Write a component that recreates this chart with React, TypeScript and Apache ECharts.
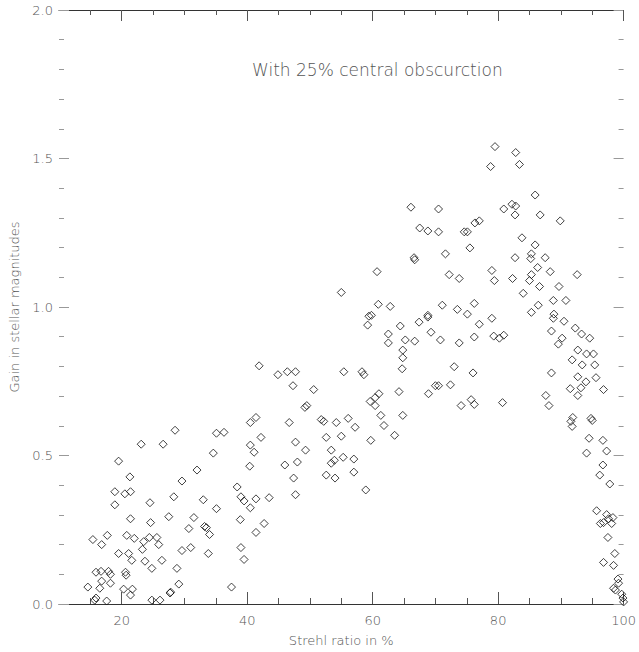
import React, { useEffect, useRef } from "react";
import * as echarts from "echarts";

// Strehl ratio (%) of each simulated case
const STREHL = [
  66.1, 67.5, 68.8, 66.6, 66.7, 60.7, 55.0, 60.9, 62.8, 59.4, 59.8, 59.2, 64.4, 67.4, 68.8, 68.8,
  69.3, 62.5, 62.5, 65.2, 66.7, 64.8, 64.8, 64.7, 41.9, 46.4, 47.7, 44.9, 55.4, 58.3, 58.6,
  79.5, 82.8, 78.8, 83.4, 85.9, 70.5, 80.9, 82.2, 82.8, 82.7, 86.7, 89.9, 70.5, 74.6, 75.1,
  76.3, 77.0, 83.8, 85.9, 71.6, 75.5, 82.7, 85.3, 85.2, 87.5, 86.3, 72.2, 73.8, 79.0, 79.4,
  82.3, 85.3, 85.0, 88.3, 92.6, 86.6, 89.7, 84.0, 71.1, 73.5, 75.1, 76.2, 86.4, 85.3, 88.8,
  90.8, 77.0, 79.0, 88.9, 88.8, 90.5, 88.5, 92.3, 93.3, 94.6, 70.8, 73.8, 76.2, 79.3, 80.2,
  80.9, 90.2, 89.6, 92.7, 94.1, 95.2, 91.8, 93.4, 95.4, 73.0, 76.0, 88.5, 92.7, 94.0, 93.2,
  91.5, 92.7, 95.6, 96.8, 70.5, 72.4, 74.1, 75.7, 76.2, 80.7, 87.6, 88.1, 91.9, 91.6, 91.8,
  94.8, 95.0, 94.5, 96.7, 94.1, 97.3, 96.7, 96.2, 97.8, 95.7, 97.3, 97.6, 96.3, 96.8, 98.3,
  98.1, 97.5, 98.6, 96.8, 98.4, 99.1, 99.2, 98.7, 98.4, 99.7, 99.9, 100.0,
  28.5, 23.1, 26.6, 35.1, 36.3, 34.6, 19.5, 21.3, 32.0, 29.6, 38.4, 18.9, 20.5, 21.4, 18.9,
  24.5, 28.3, 33.0, 35.1, 39.0, 39.5, 21.4, 24.6, 27.5, 31.5, 30.7, 33.2, 33.5, 34.0, 38.9,
  15.4, 16.8, 17.7, 20.8, 22.0, 23.5, 23.3, 24.4, 25.6, 25.9, 19.5, 21.1, 21.6, 23.7, 24.8,
  26.4, 29.6, 31.0, 33.8, 39.0, 39.5, 28.8, 15.9, 16.7, 17.9, 18.2, 16.8, 18.2, 20.6, 20.7,
  14.6, 16.5, 20.3, 21.7, 21.4, 29.1, 27.7, 27.8, 37.5, 15.9, 15.7, 17.6, 24.8, 26.1,
  47.3, 50.6, 59.6, 60.4, 61.0, 60.4, 64.2, 68.9, 70.0, 40.5, 41.4, 42.2, 46.7, 49.2, 49.5,
  51.8, 52.2, 54.2, 56.1, 57.2, 61.3, 61.8, 64.8, 63.5, 59.7, 40.5, 41.1, 47.7, 49.3, 52.6,
  55.0, 53.4, 53.4, 53.9, 55.3, 57.0, 57.0, 40.4, 46.0, 48.0, 47.4, 52.6, 54.0, 47.7, 58.9,
  41.4, 40.5, 43.5, 42.7, 41.4,
];

// Gain in stellar magnitudes for the same cases
const GAIN = [
  1.336, 1.266, 1.256, 1.166, 1.159, 1.119, 1.049, 1.009, 1.002, 0.969, 0.972, 0.939, 0.936, 0.949, 0.972, 0.966,
  0.915, 0.909, 0.879, 0.889, 0.885, 0.855, 0.829, 0.792, 0.802, 0.782, 0.782, 0.772, 0.782, 0.782, 0.772,
  1.540, 1.520, 1.473, 1.480, 1.377, 1.330, 1.330, 1.346, 1.340, 1.310, 1.310, 1.290, 1.253, 1.253, 1.253,
  1.283, 1.290, 1.233, 1.209, 1.179, 1.199, 1.166, 1.179, 1.163, 1.166, 1.133, 1.109, 1.096, 1.123, 1.089,
  1.096, 1.109, 1.089, 1.119, 1.109, 1.069, 1.069, 1.046, 1.006, 0.992, 0.976, 1.012, 1.006, 0.982, 1.022,
  1.022, 0.942, 0.962, 0.976, 0.962, 0.952, 0.919, 0.929, 0.909, 0.895, 0.889, 0.879, 0.899, 0.902, 0.895,
  0.905, 0.895, 0.875, 0.855, 0.842, 0.842, 0.822, 0.805, 0.805, 0.799, 0.778, 0.778, 0.765, 0.748, 0.728,
  0.725, 0.702, 0.762, 0.722, 0.735, 0.738, 0.668, 0.688, 0.672, 0.678, 0.702, 0.668, 0.628, 0.615, 0.598,
  0.625, 0.618, 0.558, 0.551, 0.508, 0.515, 0.468, 0.434, 0.404, 0.314, 0.301, 0.287, 0.271, 0.274, 0.291,
  0.271, 0.224, 0.170, 0.140, 0.130, 0.084, 0.070, 0.047, 0.053, 0.033, 0.020, 0.007,
  0.585, 0.538, 0.538, 0.575, 0.578, 0.508, 0.481, 0.428, 0.451, 0.414, 0.394, 0.378, 0.371, 0.378, 0.334,
  0.341, 0.361, 0.351, 0.321, 0.361, 0.347, 0.287, 0.274, 0.294, 0.291, 0.254, 0.261, 0.257, 0.234, 0.284,
  0.217, 0.200, 0.231, 0.231, 0.221, 0.210, 0.184, 0.224, 0.224, 0.200, 0.170, 0.170, 0.147, 0.144, 0.120,
  0.147, 0.180, 0.190, 0.170, 0.190, 0.150, 0.120, 0.107, 0.110, 0.110, 0.100, 0.077, 0.070, 0.107, 0.097,
  0.057, 0.053, 0.050, 0.050, 0.030, 0.067, 0.037, 0.040, 0.057, 0.020, 0.013, 0.010, 0.013, 0.013,
  0.735, 0.722, 0.682, 0.695, 0.708, 0.668, 0.715, 0.708, 0.735, 0.611, 0.628, 0.561, 0.611, 0.662, 0.668,
  0.621, 0.615, 0.611, 0.625, 0.595, 0.635, 0.601, 0.635, 0.568, 0.551, 0.535, 0.511, 0.545, 0.518, 0.561,
  0.565, 0.518, 0.474, 0.484, 0.494, 0.488, 0.444, 0.464, 0.468, 0.478, 0.424, 0.434, 0.424, 0.368, 0.384,
  0.354, 0.324, 0.358, 0.271, 0.241,
];

const X_MAJOR = [20, 40, 60, 80, 100];
const X_MINOR = [15, 25, 30, 35, 45, 50, 55, 65, 70, 75, 85, 90, 95];

const TITLE = "With 25% central obscurction";
const X_NAME = "Strehl ratio in %";
const Y_NAME = "Gain in stellar magnitudes";

const FONT = "'DejaVu Sans', 'Liberation Sans', sans-serif";
const TEXT_COLOR = "#555";
const AXIS_COLOR = "#333";

function xAxisFor(position: "top" | "bottom", values: number[], len: number, withLabels: boolean, withLine: boolean) {
  return {
    type: "value",
    min: 10,
    max: 100,
    position,
    name: withLabels ? X_NAME : undefined,
    nameLocation: "middle",
    nameGap: 30,
    nameTextStyle: { fontFamily: FONT, fontSize: 13, fontWeight: 200, color: TEXT_COLOR },
    axisLine: { show: withLine, lineStyle: { color: AXIS_COLOR, width: 1 } },
    axisTick: { show: true, inside: true, length: len, customValues: values, lineStyle: { color: "#555", width: 1 } },
    axisLabel: withLabels
      ? { show: true, customValues: values, margin: 10, fontFamily: FONT, fontSize: 13, fontWeight: 200, color: TEXT_COLOR }
      : { show: false },
    splitLine: { show: false },
  };
}

function yAxisFor(position: "left" | "right", withLabels: boolean) {
  return {
    type: "value",
    min: 0,
    max: 2,
    interval: 0.5,
    position,
    name: withLabels ? Y_NAME : undefined,
    nameLocation: "middle",
    nameGap: 38,
    nameRotate: 90,
    nameTextStyle: { fontFamily: FONT, fontSize: 13, fontWeight: 200, color: TEXT_COLOR },
    axisLine: { show: false },
    axisTick: { show: true, inside: true, length: 10, lineStyle: { color: "#999", width: 1 } },
    minorTick: { show: true, splitNumber: 5, length: 5, lineStyle: { color: "#999", width: 1 } },
    axisLabel: withLabels
      ? {
          show: true,
          margin: 6,
          fontFamily: FONT,
          fontSize: 13,
          fontWeight: 200,
          color: TEXT_COLOR,
          formatter: (v: number) => v.toFixed(1),
        }
      : { show: false },
    splitLine: { show: false },
  };
}

export default function App() {
  const ref = useRef<HTMLDivElement>(null);

  useEffect(() => {
    if (!ref.current) return;
    const chart = echarts.init(ref.current, null, { renderer: "svg" });
    const points = STREHL.map((s, i) => [s, GAIN[i]]);
    chart.setOption({
      animation: false,
      backgroundColor: "#fff",
      title: {
        text: TITLE,
        left: 247,
        top: 56,
        textStyle: { fontFamily: FONT, fontSize: 17, fontWeight: 200, color: TEXT_COLOR },
      },
      grid: { left: 56, right: 13, top: 10, bottom: 43, containLabel: false },
      xAxis: [
        xAxisFor("bottom", X_MAJOR, 12, true, true),
        xAxisFor("bottom", X_MINOR, 6, false, false),
        xAxisFor("top", X_MAJOR, 11, false, true),
        xAxisFor("top", X_MINOR, 5, false, false),
      ],
      yAxis: [yAxisFor("left", true), yAxisFor("right", false)],
      series: [
        {
          type: "scatter",
          xAxisIndex: 0,
          yAxisIndex: 0,
          data: points,
          symbol: "diamond",
          symbolSize: 8,
          itemStyle: { color: "rgba(0,0,0,0)", borderColor: "#111", borderWidth: 1 },
          emphasis: { disabled: true },
        },
      ],
    });
    return () => chart.dispose();
  }, []);

  return (
    <div
      ref={ref}
      style={{ position: "absolute", left: 0, top: 0, width: 639, height: 652, background: "#fff" }}
    />
  );
}
